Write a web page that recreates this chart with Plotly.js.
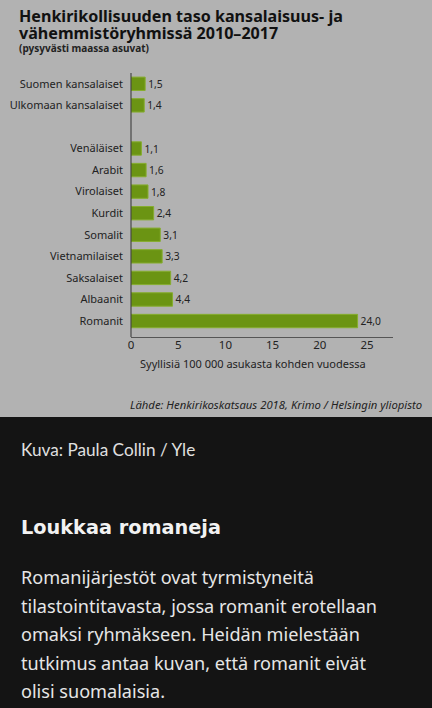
<!DOCTYPE html>
<html>
<head>
<meta charset="utf-8">
<script src="https://cdn.plot.ly/plotly-3.0.1.min.js"></script>
<style>
html,body{margin:0;padding:0;background:#141414;}
#chart{width:432px;height:708px;}
</style>
</head>
<body>
<div id="chart"></div>
<script>
var categories = ["Suomen kansalaiset","Ulkomaan kansalaiset","\u200b","Venäläiset","Arabit","Virolaiset","Kurdit","Somalit","Vietnamilaiset","Saksalaiset","Albaanit","Romanit"];
var values = [1.5,1.4,null,1.1,1.6,1.8,2.4,3.1,3.3,4.2,4.4,24.0];
var xTicks = [0,5,10,15,20,25];
var titleLines = ["Henkirikollisuuden taso kansalaisuus- ja","vähemmistöryhmissä 2010–2017"];
var subtitle = "(pysyvästi maassa asuvat)";
var xTitle = "Syyllisiä 100 000 asukasta kohden vuodessa";
var source = "Lähde: Henkirikoskatsaus 2018, Krimo / Helsingin yliopisto";
var credit = "Kuva: Paula Collin / Yle";
var heading = "Loukkaa romaneja";
var bodyLines = ["Romanijärjestöt ovat tyrmistyneitä","tilastointitavasta, jossa romanit erotellaan","omaksi ryhmäkseen. Heidän mielestään","tutkimus antaa kuvan, että romanit eivät","olisi suomalaisia."];

var W=432,H=708, L=131,R=393,T=73,B=337;
function px(x){return (x-L)/(R-L);}
function py(y){return (B-y)/(B-T);}

var labels = values.map(function(v){return v==null?"":v.toFixed(1).replace('.',',');});

var trace = {
  type:'bar', orientation:'h', y:categories, x:values, text:labels,
  textposition:'outside', cliponaxis:false,
  textfont:{family:'Noto Sans, sans-serif', size:11.5, color:'#222'},
  marker:{color:'#6b9413', line:{color:'#86ad2e', width:1}},
  width:0.62, hoverinfo:'skip'
};

var ann = [];
function addText(t,x,y,opts){
  var a = {text:t, x:px(x), y:py(y), xref:'paper', yref:'paper', showarrow:false, xanchor:opts.xanchor||'left', yanchor:'middle',
    font:{family:opts.family||'Noto Sans, sans-serif', size:opts.size, color:opts.color||'#111', weight:opts.weight||400, style:opts.style||'normal'}};
  ann.push(a);
}
addText(titleLines[0],17,15.5,{size:16.1,weight:700,color:'#111'});
addText(titleLines[1],17,32.5,{size:16.1,weight:700,color:'#111'});
addText(subtitle,17,48,{size:10,weight:700,color:'#222'});
addText(xTitle,253,363,{size:11,color:'#222',xanchor:'center'});
addText(source,424,404,{size:11.3,color:'#222',xanchor:'right',style:'italic'});
addText(credit,19,449,{size:17.2,color:'#e0e0e0',family:'Lato, sans-serif'});
addText(heading,19,527,{size:19.3,weight:700,color:'#f2f2f2',family:'DejaVu Sans, sans-serif'});
for(var i=0;i<bodyLines.length;i++){
  addText(bodyLines[i],19,577+i*28.5,{size:18.1,color:'#e6e6e6',family:'Noto Sans, sans-serif'});
}

var layout = {
  width:W, height:H,
  margin:{l:L, r:W-R, t:T, b:H-B, pad:0},
  paper_bgcolor:'#141414', plot_bgcolor:'rgba(0,0,0,0)',
  showlegend:false,
  xaxis:{range:[0,27.75], tickvals:xTicks, ticktext:xTicks.map(String), showgrid:false, zeroline:false,
    showline:true, linecolor:'#555', linewidth:1, ticks:'', ticklabelstandoff:-3,
    tickfont:{family:'Noto Sans, sans-serif', size:11.5, color:'#222'}, fixedrange:true},
  yaxis:{type:'category', categoryarray:categories, categoryorder:'array', range:[11.74,-0.5],
    showgrid:false, zeroline:false, showline:false, ticks:'', ticklabelstandoff:7,
    tickfont:{family:'Noto Sans, sans-serif', size:11, color:'#222'}, fixedrange:true},
  shapes:[
    {type:'rect', xref:'paper', yref:'paper', x0:px(0), x1:px(W), y0:py(417), y1:py(0), fillcolor:'#b2b2b2', line:{width:0}, layer:'below'},
    {type:'line', xref:'paper', yref:'paper', x0:0, x1:0, y0:0, y1:1, line:{color:'#333', width:1}}
  ],
  annotations:ann
};
Plotly.newPlot('chart',[trace],layout,{staticPlot:true});
</script>
</body>
</html>
